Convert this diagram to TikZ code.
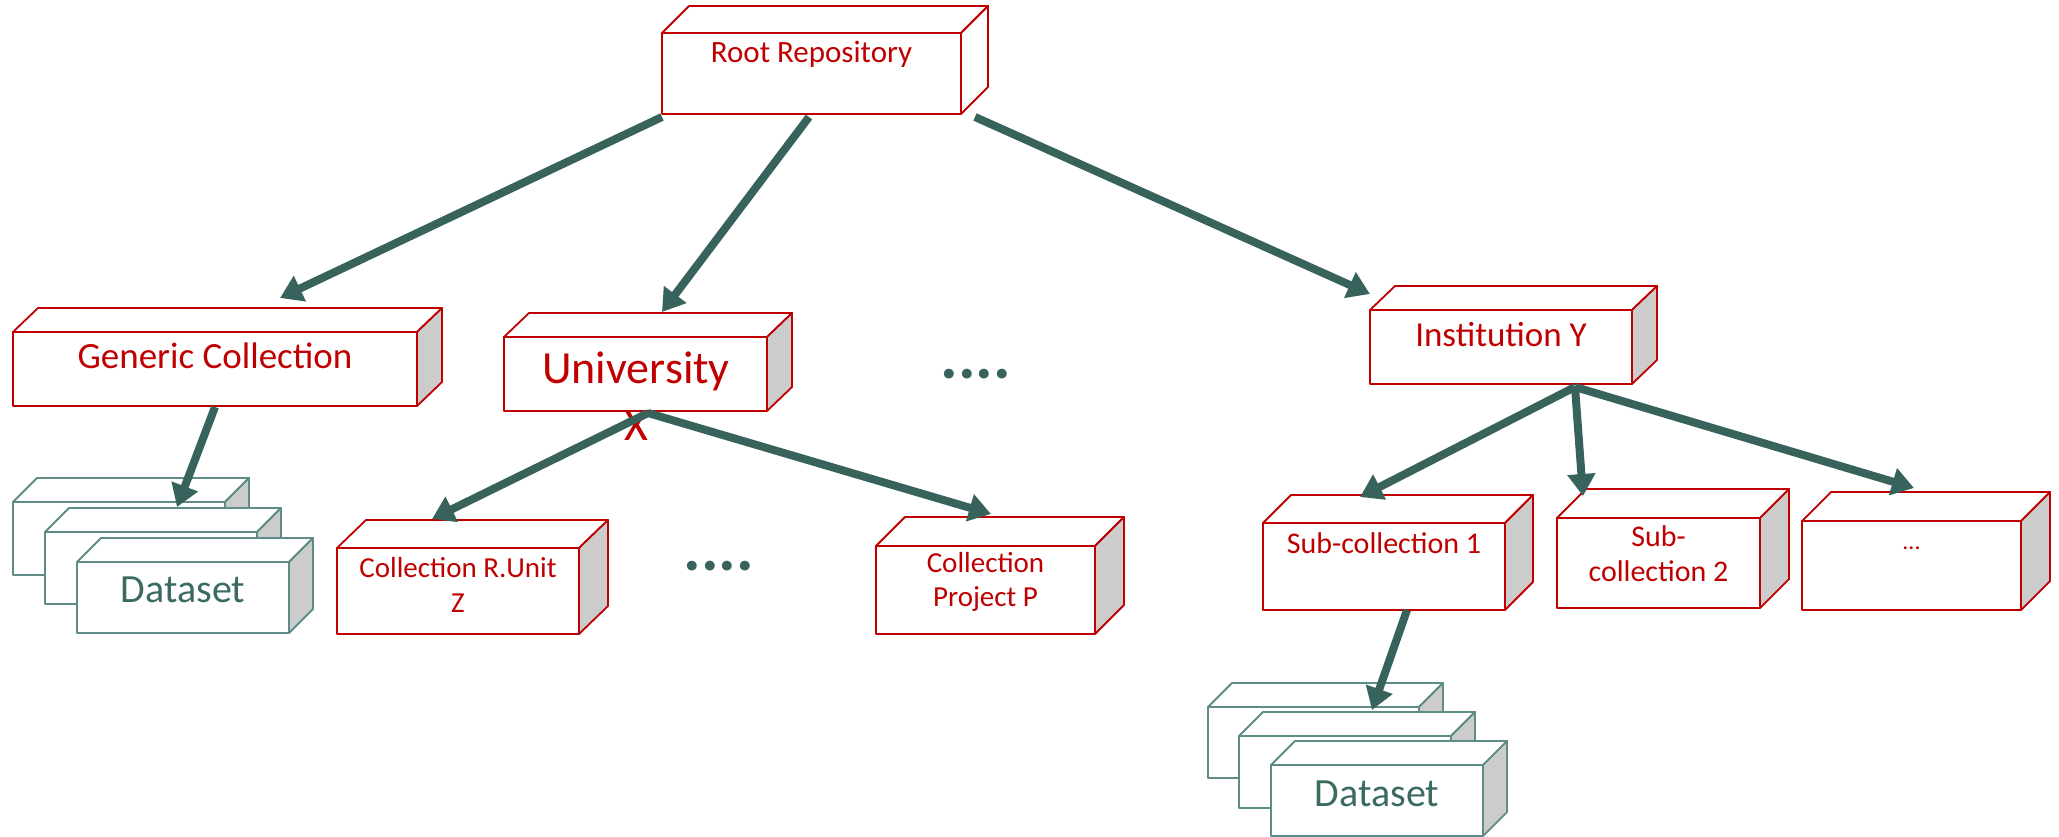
\documentclass[tikz,border=0pt]{standalone}
\usepackage{fontspec}
\setmainfont{Carlito}
\usetikzlibrary{arrows.meta}
\definecolor{boxred}{HTML}{C00000}
\definecolor{txtred}{HTML}{C00000}
\definecolor{tealline}{HTML}{5E8C86}
\definecolor{tealtxt}{HTML}{3B6A63}
\definecolor{arrowteal}{HTML}{37635C}
\definecolor{sidegrey}{HTML}{CCCCCC}
\newcommand\cubefaces[5]{%
  \draw[#4, fill=white] (#1.north west) -- ([shift={(#2,-#3)}]#1.north west) -- ([shift={(#2,-#3)}]#1.north east) -- (#1.north east) -- cycle;
  \draw[#4, fill=#5] (#1.north east) -- ([shift={(#2,-#3)}]#1.north east) -- ([shift={(#2,-#3)}]#1.south east) -- (#1.south east) -- cycle;
}
\tikzset{
  redface/.style={draw=boxred, line width=1.8pt, line join=round},
  tealface/.style={draw=tealline, line width=1.8pt, line join=round},
  redbox/.style={rectangle, redface, fill=white, inner sep=0pt, outer sep=0pt},
  tealbox/.style={rectangle, tealface, fill=white, inner sep=0pt, outer sep=0pt},
  redtext/.style={text=txtred, inner sep=0pt, align=center},
  tealtext/.style={text=tealtxt, inner sep=0pt, align=center},
  dots/.style={text=arrowteal, inner sep=0pt, font=\fontsize{66}{70}\selectfont\bfseries},
  arrowline/.style={draw=arrowteal, line width=8pt, -{Triangle[length=22pt,width=27pt]}},
}
\begin{document}
\begin{tikzpicture}[x=1pt, y=-1pt]
\useasboundingbox (0,0) rectangle (2059,837);

% Root
\node[redbox, minimum width=299pt, minimum height=81pt] (root) at (811.5,73.5) {};
\cubefaces{root}{27}{27}{redface}{white}
\node[redtext, anchor=base, font=\fontsize{31}{37}\selectfont] (rootT) at (811.5,63) {Root Repository};

% Generic Collection
\node[redbox, minimum width=404pt, minimum height=74pt] (gen) at (215,369) {};
\cubefaces{gen}{25}{24}{redface}{sidegrey}
\node[redtext, anchor=base, font=\fontsize{37}{44}\selectfont] (genT) at (215,368) {Generic Collection};

% University
\node[redbox, minimum width=263pt, minimum height=74pt] (uni) at (635.5,374) {};
\cubefaces{uni}{25}{24}{redface}{sidegrey}
\node[redtext, anchor=center, font=\fontsize{46}{57}\selectfont] (uniT) at (636,396) {University\\X};

% Institution Y
\node[redbox, minimum width=262pt, minimum height=74pt] (inst) at (1501,347) {};
\cubefaces{inst}{25}{24}{redface}{sidegrey}
\node[redtext, anchor=base, font=\fontsize{35}{42}\selectfont] (instT) at (1501,346) {Institution Y};

% Collection R.Unit Z
\node[redbox, minimum width=242pt, minimum height=86pt] (runit) at (458,591) {};
\cubefaces{runit}{29}{28}{redface}{sidegrey}
\node[redtext, anchor=center, font=\fontsize{29}{35}\selectfont] (runitT) at (458,584.5) {Collection R.Unit\\Z};

% Collection Project P
\node[redbox, minimum width=219pt, minimum height=88pt] (proj) at (985.5,590) {};
\cubefaces{proj}{29}{29}{redface}{sidegrey}
\node[redtext, anchor=center, font=\fontsize{29}{34}\selectfont] (projT) at (985.5,582) {Collection\\Project P};

% Sub-collection 1
\node[redbox, minimum width=242pt, minimum height=87pt] (sub1) at (1384,566.5) {};
\cubefaces{sub1}{28}{28}{redface}{sidegrey}
\node[redtext, anchor=base, font=\fontsize{30}{36}\selectfont] (sub1T) at (1384,553) {Sub-collection 1};

% Sub-collection 2
\node[redbox, minimum width=203pt, minimum height=90pt] (sub2) at (1658.5,563) {};
\cubefaces{sub2}{29}{29}{redface}{sidegrey}
\node[redtext, anchor=center, font=\fontsize{30}{35}\selectfont] (sub2T) at (1658.5,554) {Sub-\\collection 2};

% ... box
\node[redbox, minimum width=219pt, minimum height=89pt] (etc) at (1911.5,565.5) {};
\cubefaces{etc}{29}{29}{redface}{sidegrey}
\node[redtext, anchor=base, font=\fontsize{24}{28}\selectfont] (etcT) at (1911.5,549) {...};

% Left dataset stack
\node[tealbox, minimum width=212pt, minimum height=73pt] (d1) at (119,538.5) {};
\cubefaces{d1}{24}{24}{tealface}{sidegrey}
\node[tealbox, minimum width=212pt, minimum height=72pt] (d2) at (151,568) {};
\cubefaces{d2}{24}{24}{tealface}{sidegrey}
\node[tealbox, minimum width=212pt, minimum height=71pt] (d3) at (183,597.5) {};
\cubefaces{d3}{24}{24}{tealface}{sidegrey}
\node[tealtext, anchor=base, font=\fontsize{40}{48}\selectfont] (dsL) at (183,602) {Dataset};

% Right dataset stack
\node[tealbox, minimum width=211pt, minimum height=71pt] (e1) at (1313.5,742.5) {};
\cubefaces{e1}{24}{24}{tealface}{sidegrey}
\node[tealbox, minimum width=212pt, minimum height=72pt] (e2) at (1345,772) {};
\cubefaces{e2}{24}{24}{tealface}{sidegrey}
\node[tealbox, minimum width=212pt, minimum height=71pt] (e3) at (1377,800.5) {};
\cubefaces{e3}{24}{24}{tealface}{sidegrey}
\node[tealtext, anchor=base, font=\fontsize{40}{48}\selectfont] (dsR) at (1377,806) {Dataset};

% Ellipsis dots
\node[dots, anchor=base] (dotsA) at (976,378) {....};
\node[dots, anchor=base] (dotsB) at (719,570) {....};

% Arrows
\draw[arrowline] ([shift={(0,3)}]root.south west) -- ([shift={(267,-34)}]gen.north west);
\draw[arrowline] ([shift={(147,3)}]root.south west) -- ([shift={(158,-25)}]uni.north west);
\draw[arrowline] ([shift={(14,3)}]root.south east) -- ([shift={(0,-16)}]inst.north west);
\draw[arrowline] ([shift={(0,1)}]gen.south) -- ([shift={(164,5)}]d1.north west);
\draw[arrowline] ([shift={(12.5,2)}]uni.south) -- ([shift={(95,-29)}]runit.north west);
\draw[arrowline] ([shift={(12.5,2)}]uni.south) -- ([shift={(115,-32)}]proj.north west);
\draw[arrowline] ([shift={(74,3)}]inst.south) -- ([shift={(97,-26)}]sub1.north west);
\draw[arrowline] ([shift={(74,3)}]inst.south) -- ([shift={(26,-22)}]sub2.north west);
\draw[arrowline] ([shift={(74,3)}]inst.south) -- ([shift={(112,-33)}]etc.north west);
\draw[arrowline] ([shift={(23,0)}]sub1.south) -- ([shift={(164,3)}]e1.north west);
\end{tikzpicture}
\end{document}
